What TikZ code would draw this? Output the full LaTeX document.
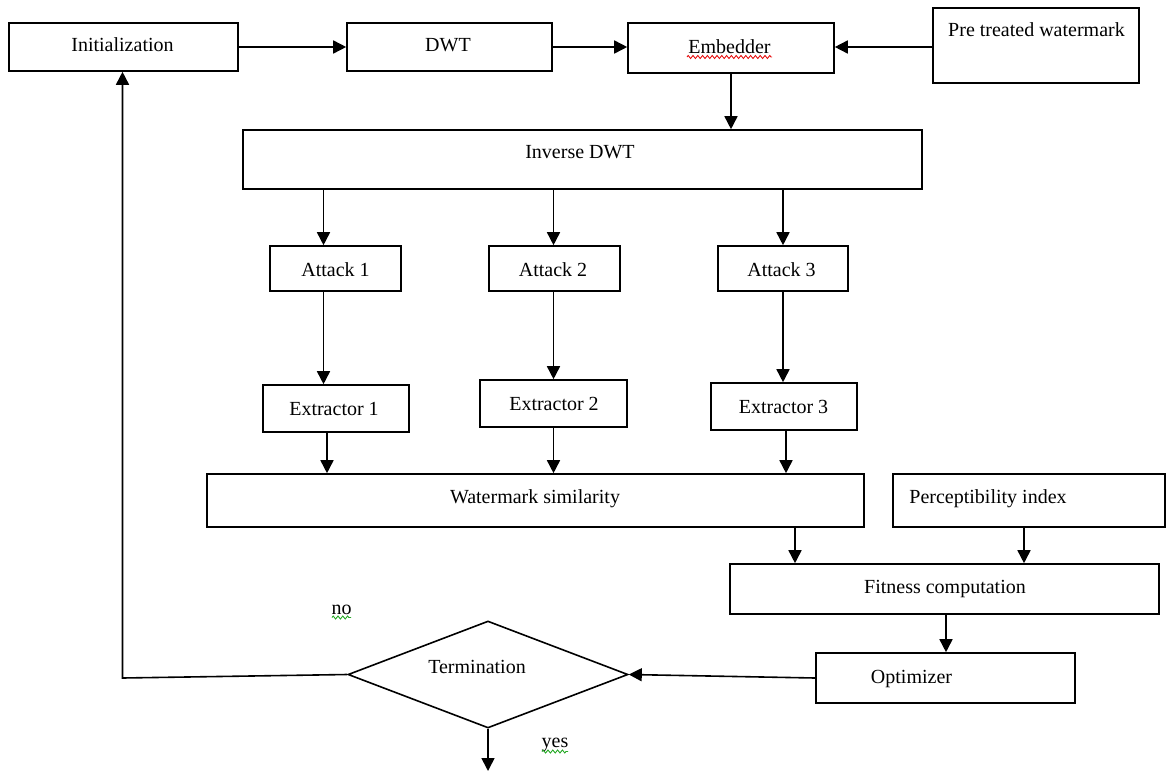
\documentclass[tikz,border=0pt]{standalone}
\usepackage{fontspec}
\setmainfont{Liberation Serif}
\usetikzlibrary{arrows.meta,shapes.geometric,decorations.pathmorphing}
\definecolor{spellred}{RGB}{230,20,20}
\definecolor{spellgreen}{RGB}{40,170,40}
\begin{document}
\begin{tikzpicture}[x=0.5pt,y=-0.5pt,
  box/.style={draw, line width=0.8pt, rectangle, inner sep=0pt},
  dia/.style={draw, line width=0.8pt, diamond, inner sep=0pt},
  txt/.style={font=\fontsize{10}{12}\selectfont, anchor=base, inner sep=0pt},
  arr/.style={line width=0.8pt, -{Triangle[length=6.5pt,width=6.5pt]}},
  squigred/.style={draw=spellred, line width=0.45pt, decorate, decoration={zigzag, segment length=2.4pt, amplitude=0.75pt}},
  squiggreen/.style={draw=spellgreen, line width=0.45pt, decorate, decoration={zigzag, segment length=2.4pt, amplitude=0.75pt}}]

\useasboundingbox (0,0) rectangle (1166,771);

% boxes
\node[box, minimum width=114.5pt, minimum height=24pt] (init) at (123.5,47) {};
\node[box, minimum width=102.5pt, minimum height=24pt] (dwt) at (449.5,47) {};
\node[box, minimum width=103pt, minimum height=25pt] (emb) at (731,48) {};
\node[box, minimum width=103pt, minimum height=37.5pt] (pre) at (1036,45.5) {};
\node[box, minimum width=339.5pt, minimum height=29.5pt] (inv) at (582.5,159.5) {};
\node[box, minimum width=65.5pt, minimum height=22.5pt] (a1) at (335.5,268.5) {};
\node[box, minimum width=65.5pt, minimum height=22.5pt] (a2) at (554.5,268.5) {};
\node[box, minimum width=65pt, minimum height=22.5pt] (a3) at (783,268.5) {};
\node[box, minimum width=73pt, minimum height=23.5pt] (e1) at (336,408.5) {};
\node[box, minimum width=73.5pt, minimum height=23.5pt] (e2) at (553.5,403.5) {};
\node[box, minimum width=73pt, minimum height=23.5pt] (e3) at (784,406.5) {};
\node[box, minimum width=328.5pt, minimum height=26.5pt] (ws) at (535.5,500.5) {};
\node[box, minimum width=136pt, minimum height=26.5pt] (pi) at (1029,500.5) {};
\node[box, minimum width=214.5pt, minimum height=25pt] (fit) at (944.5,589) {};
\node[box, minimum width=129.5pt, minimum height=25pt] (opt) at (945.5,678) {};
\node[dia, minimum width=140pt, minimum height=53.5pt] (term) at (488,674.5) {};

% texts
\node[txt] (initt) at (122.5,51) {Initialization};
\node[txt] (dwtt) at (448,51) {DWT};
\node[txt] (embt) at (729.5,53) {Embedder};
\node[txt] (pret) at (1036.5,36) {Pre treated watermark};
\node[txt] (invt) at (580,158) {Inverse DWT};
\node[txt] (a1t) at (335.5,276) {Attack 1};
\node[txt] (a2t) at (553,276) {Attack 2};
\node[txt] (a3t) at (781.5,276) {Attack 3};
\node[txt] (e1t) at (334,415) {Extractor 1};
\node[txt] (e2t) at (554,410) {Extractor 2};
\node[txt] (e3t) at (783.5,413) {Extractor 3};
\node[txt] (wst) at (535,503) {Watermark similarity};
\node[txt] (pit) at (988,503) {Perceptibility index};
\node[txt] (fitt) at (945,593) {Fitness computation};
\node[txt] (optt) at (911.5,683) {Optimizer};
\node[txt] (termt) at (477,673) {Termination};
\node[txt] (no) at (341.5,614) {no};
\node[txt] (yes) at (555,747) {yes};

% spelling squiggles
\draw[squigred] (687,57) -- (772,57);
\draw[squiggreen] (332,617.5) -- (351,617.5);
\draw[squiggreen] (542,751.5) -- (568,751.5);

% column coordinates
\coordinate (c1) at (323.5,0);
\coordinate (d1) at (327,0);
\coordinate (c2) at (553.5,0);
\coordinate (c3) at (783,0);
\coordinate (d3) at (786,0);
\coordinate (cw) at (795,0);
\coordinate (cp) at (1024,0);
\coordinate (cf) at (946,0);
\coordinate (corner) at (122.5,678);
\coordinate (yesend) at (488,771);

% connectors
\draw[arr] (init.east) -- (dwt.west);
\draw[arr] (dwt.east) -- (dwt.east -| emb.west);
\draw[arr] (pre.west |- dwt.east) -- (dwt.east -| emb.east);
\draw[arr] (emb.south) -- (emb.south |- inv.north);
\draw[arr] (c1 |- inv.south) -- (c1 |- a1.north);
\draw[arr] (c2 |- inv.south) -- (c2 |- a2.north);
\draw[arr] (c3 |- inv.south) -- (c3 |- a3.north);
\draw[arr] (c1 |- a1.south) -- (c1 |- e1.north);
\draw[arr] (c2 |- a2.south) -- (c2 |- e2.north);
\draw[arr] (c3 |- a3.south) -- (c3 |- e3.north);
\draw[arr] (d1 |- e1.south) -- (d1 |- ws.north);
\draw[arr] (c2 |- e2.south) -- (c2 |- ws.north);
\draw[arr] (d3 |- e3.south) -- (d3 |- ws.north);
\draw[arr] (cw |- ws.south) -- (cw |- fit.north);
\draw[arr] (cp |- pi.south) -- (cp |- fit.north);
\draw[arr] (cf |- fit.south) -- (cf |- opt.north);
\draw[arr] (opt.west) -- (term.east);
\draw[arr] (term.west) -- (corner) -- (corner |- init.south);
\draw[arr] (term.south) -- (yesend);
\end{tikzpicture}
\end{document}
